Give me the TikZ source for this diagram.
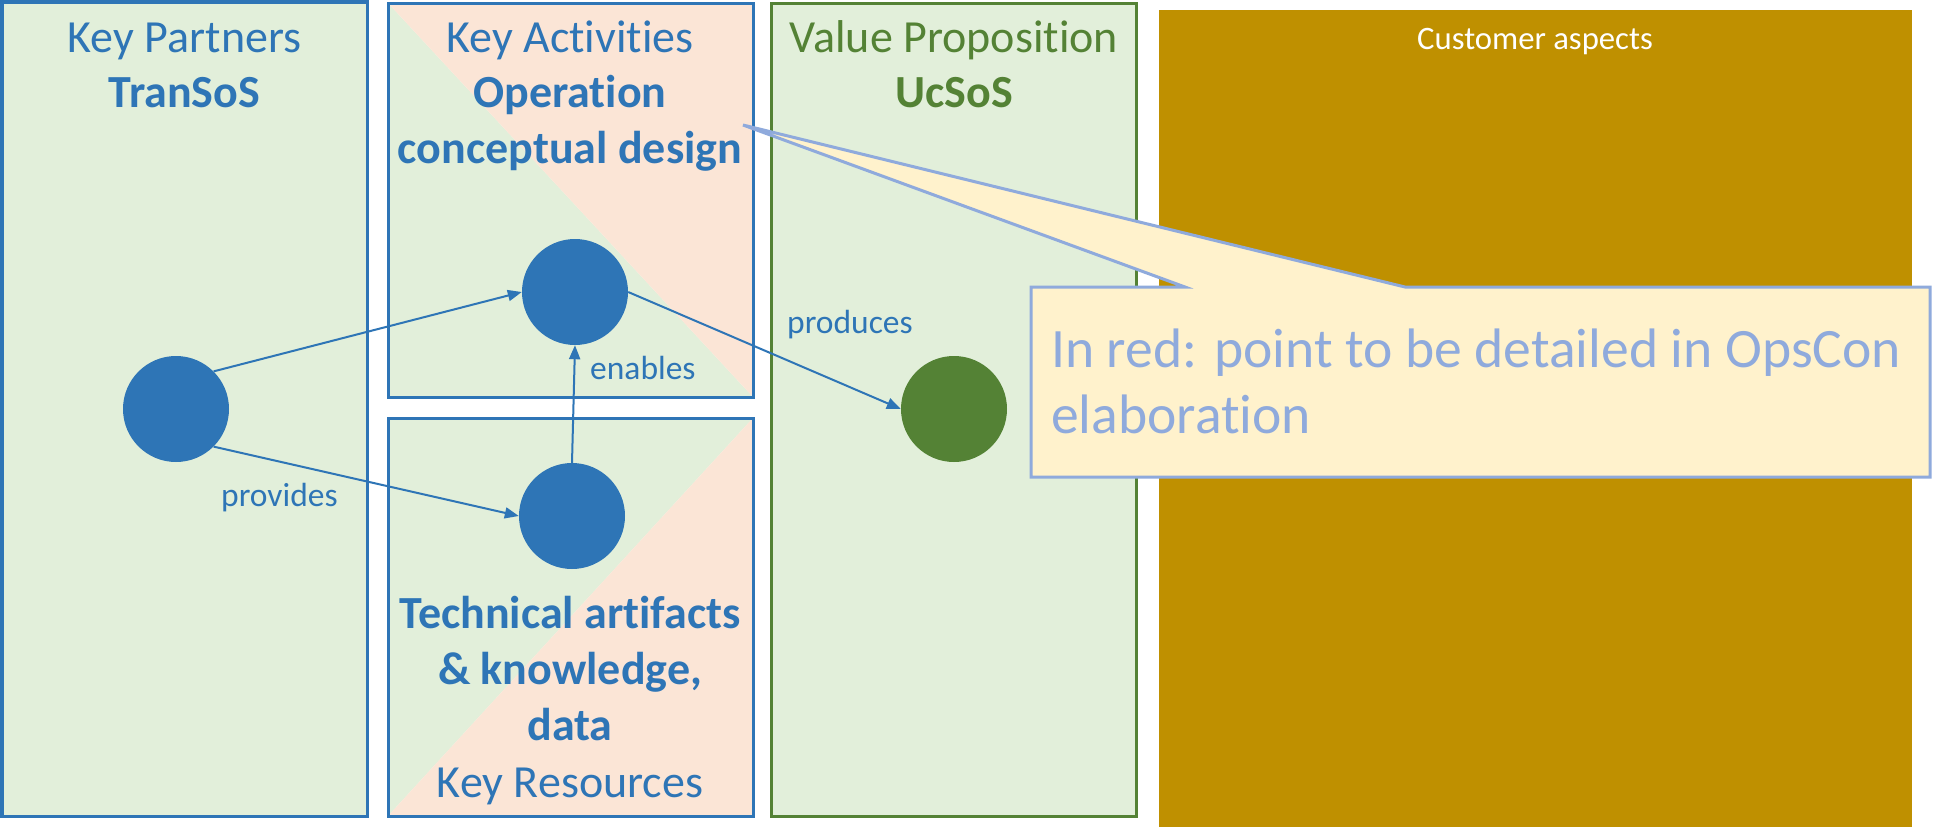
\documentclass[tikz,border=0pt]{standalone}
\usepackage{fontspec}
\setmainfont{Carlito}[Ligatures=NoCommon]
\usetikzlibrary{arrows.meta}
\definecolor{kblue}{HTML}{2E75B6}
\definecolor{kgreen}{HTML}{548235}
\definecolor{lgreen}{HTML}{E2EFDA}
\definecolor{lpink}{HTML}{FBE5D6}
\definecolor{gold}{HTML}{BF9000}
\definecolor{cfill}{HTML}{FFF2CC}
\definecolor{cline}{HTML}{8FAADC}
\tikzset{
  boxline/.style={line width=3bp},
  big/.style={font=\fontsize{46bp}{54bp}\selectfont, inner sep=0pt, anchor=base},
  bigb/.style={font=\fontsize{46bp}{54bp}\selectfont\bfseries, inner sep=0pt, anchor=base},
  lbl/.style={font=\fontsize{33.5bp}{38bp}\selectfont, inner sep=0pt, anchor=base west, text=kblue},
  dot/.style={circle, minimum size=106bp, inner sep=0pt, draw=none},
  arr/.style={draw=kblue, line width=2bp, -{Triangle[length=14bp,width=11bp]}},
  ctext/.style={font=\fontsize{55.6bp}{66bp}\selectfont, inner sep=0pt, anchor=base west, text=cline}
}
\begin{document}
\begin{tikzpicture}[x=1bp,y=-1bp]
\useasboundingbox (0,0) rectangle (1933,827);
\fill[white] (0,0) rectangle (1933,827);
% Key Partners
\fill[lgreen] (2,2) rectangle (367,816);
\draw[boxline, kblue] (2,2) rectangle (367,816);
% Key Activities
\fill[lgreen] (388,3) -- (388,397) -- (753,397) -- cycle;
\fill[lpink] (388,3) -- (753,3) -- (753,397) -- cycle;
\draw[boxline, kblue] (388,3) rectangle (753,397);
% Key Resources
\fill[lgreen] (388,418) -- (753,418) -- (388,816) -- cycle;
\fill[lpink] (753,418) -- (753,816) -- (388,816) -- cycle;
\draw[boxline, kblue] (388,418) rectangle (753,816);
% Value Proposition
\fill[lgreen] (771,3) rectangle (1136,816);
\draw[boxline, kgreen] (771,3) rectangle (1136,816);
% Customer aspects
\fill[gold] (1159,10) rectangle (1912,827);
\node[font=\fontsize{32.7bp}{38bp}\selectfont, text=white, inner sep=0pt, anchor=base] (cust) at (1535,49) {Customer aspects};
% titles
\node[big, text=kblue] (kp1) at (184.5,52) {Key Partners};
\node[bigb, text=kblue] (kp2) at (184.5,107) {TranSoS};
\node[big, text=kblue] (ka1) at (570,52) {Key Activities};
\node[bigb, text=kblue] (ka2) at (570,107) {Operation};
\node[bigb, text=kblue] (ka3) at (570,163) {conceptual design};
\node[bigb, text=kblue] (kr1) at (570,628) {Technical artifacts};
\node[bigb, text=kblue] (kr2) at (570,684) {\& knowledge,};
\node[bigb, text=kblue] (kr3) at (570,740) {data};
\node[big, text=kblue] (kr4) at (570,797) {Key Resources};
\node[big, text=kgreen] (vp1) at (954,52) {Value Proposition};
\node[bigb, text=kgreen] (vp2) at (954,107) {UcSoS};
% circles
\node[dot, fill=kblue] (p) at (176,409) {};
\node[dot, fill=kblue] (a) at (575,292) {};
\node[dot, fill=kblue] (r) at (572,516) {};
\node[dot, fill=kgreen] (v) at (954,409) {};
% arrows
\draw[arr] (p.45) -- (a.west);
\draw[arr] (p.-45) -- (r.west);
\draw[arr] (r.north) -- (a.south);
\draw[arr] (a.east) -- (v.west);
\node[lbl] (en) at (590,379) {enables};
\node[lbl] (pr) at (221,506) {provides};
\node[lbl] (pd) at (787,333) {produces};
% callout
\coordinate (tip) at (743,125);
\filldraw[fill=cfill, draw=cline, line width=3bp, line join=miter]
  (1031,287) -- (1185,287) -- (tip) -- (1405,287) -- (1930,287) -- (1930,477) -- (1031,477) -- cycle;
\node[ctext] (c1) at (1051,367) {In red: point to be detailed in OpsCon};
\node[ctext] (c2) at (1051,433) {elaboration};
\end{tikzpicture}
\end{document}
